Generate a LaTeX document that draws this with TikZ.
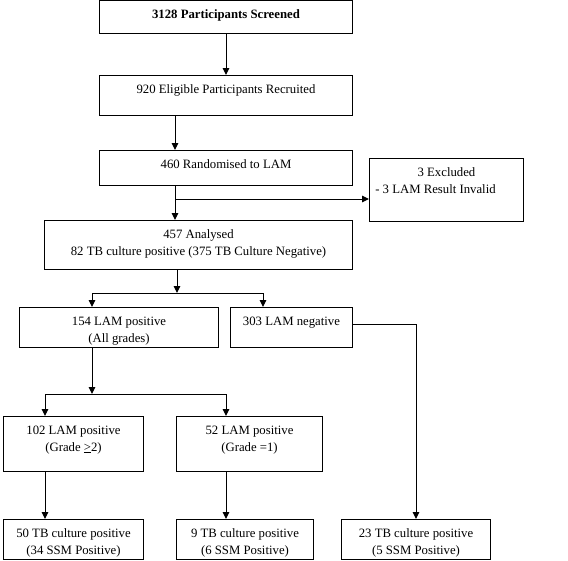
\documentclass[tikz,border=0pt]{standalone}
\usepackage{fontspec}
\setmainfont{Liberation Serif}
\usetikzlibrary{arrows.meta}

\tikzset{
  flowbox/.style={draw, line width=1pt, inner sep=0pt, anchor=north west},
  flowline/.style={line width=1pt},
  flowarrow/.style={flowline, -{Triangle[length=7pt,width=6.5pt]}},
}
% text set at the top of a box of given width and height (in pt)
\newcommand{\boxtext}[3]{\parbox[c][#2pt][t]{#1pt}{\centering\fontsize{12.75}{17}\selectfont\rule{0pt}{17.5pt}#3}}

\begin{document}
\begin{tikzpicture}[x=1pt,y=-1pt]
\useasboundingbox (0,0) rectangle (568,560);

\node[flowbox] (screen) at (99,0) {\boxtext{253}{33}{\textbf{3128 Participants Screened}}};
\node[flowbox] (recruit) at (99,75) {\boxtext{253}{40}{920 Eligible Participants Recruited}};
\node[flowbox] (rand) at (99,150) {\boxtext{253}{35}{460 Randomised to LAM}};
\node[flowbox] (excl) at (369,158) {\boxtext{154}{63}{3 Excluded\\\hspace*{-22pt}- 3 LAM Result Invalid}};
\node[flowbox] (analysed) at (44,220) {\boxtext{308}{49}{457 Analysed\\82 TB culture positive (375 TB Culture Negative)}};

\node[flowbox] (lampos) at (19,307) {\boxtext{199}{40}{154 LAM positive\\(All grades)}};
\node[flowbox] (lamneg) at (230,307) {\boxtext{122}{40}{303 LAM negative}};

\node[flowbox] (gr2) at (3,416) {\boxtext{140}{55}{102 LAM positive\\(Grade \underline{>}2)}};
\node[flowbox] (gr1) at (176,416) {\boxtext{146}{55}{52 LAM positive\\(Grade =1)}};

\node[flowbox] (tbgr2) at (3,519) {\boxtext{140}{40}{50 TB culture positive\\(34 SSM Positive)}};
\node[flowbox] (tbgr1) at (176,519) {\boxtext{137}{40}{9 TB culture positive\\(6 SSM Positive)}};
\node[flowbox] (tbneg) at (341,519) {\boxtext{149}{40}{23 TB culture positive\\(5 SSM Positive)}};

% junctions
\coordinate (split) at (175,199);
\coordinate (fork1) at (177,293);
\coordinate (fork2) at (92,394);

\draw[flowarrow] (screen) -- (recruit);
\draw[flowarrow] ([xshift=76pt]recruit.south west) -- ([xshift=76pt]rand.north west);
\draw[flowarrow] ([xshift=76pt]rand.south west) -- ([xshift=131pt]analysed.north west);
\draw[flowarrow] (split) -- (split -| excl.west);

\draw[flowarrow] ([xshift=133pt]analysed.south west) -- (fork1);
\draw[flowarrow] (fork1) -| ([xshift=73pt]lampos.north west);
\draw[flowarrow] (fork1) -| ([xshift=33pt]lamneg.north west);
\draw[flowarrow] ([yshift=3pt]lamneg.east) -| (tbneg.north);

\draw[flowarrow] ([xshift=73pt]lampos.south west) -- (fork2);
\draw[flowarrow] (fork2) -| ([xshift=42pt]gr2.north west);
\draw[flowarrow] (fork2) -| ([xshift=50pt]gr1.north west);
\draw[flowarrow] ([xshift=42pt]gr2.south west) -- ([xshift=42pt]tbgr2.north west);
\draw[flowarrow] ([xshift=50pt]gr1.south west) -- ([xshift=50pt]tbgr1.north west);
\end{tikzpicture}
\end{document}
